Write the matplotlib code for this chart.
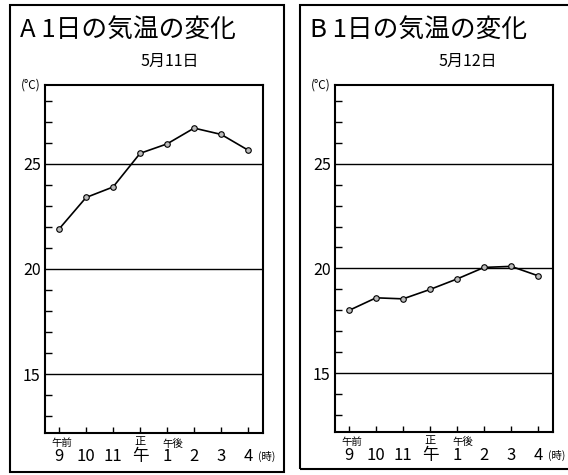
import numpy as np
import matplotlib.pyplot as plt
from matplotlib.patches import Rectangle
import matplotlib.transforms as mtransforms

plt.rcParams['font.family'] = ['Noto Sans CJK JP', 'DejaVu Sans']

# hours: 9..16 (12 = noon, 13 = 1 pm ...)
hours = [9, 10, 11, 12, 13, 14, 15, 16]
hour_labels = ["9", "10", "11", "午", "1", "2", "3", "4"]
temp_a = [21.9, 23.4, 23.9, 25.5, 25.95, 26.7, 26.4, 25.65]
temp_b = [18.0, 18.6, 18.55, 19.0, 19.5, 20.05, 20.1, 19.65]
titles = ["A 1日の気温の変化", "B 1日の気温の変化"]
dates = ["5月11日", "5月12日"]
major_y = [15, 20, 25]

W, H = 568, 475
fig = plt.figure(figsize=(W / 100, H / 100), dpi=100)


def px_box(x0, y0, x1, y1):
    # pixel box (top-left origin) -> figure fraction [left, bottom, width, height]
    return [x0 / W, 1 - y1 / H, (x1 - x0) / W, (y1 - y0) / H]


panels = [
    dict(frame=(10, 5, 284, 472), axes=(45, 85, 263, 433), temps=temp_a,
         title_x=20, date_x=170),
    dict(frame=(300, 5, 575, 469), axes=(335, 85, 553, 432), temps=temp_b,
         title_x=310, date_x=468),
]

for i, p in enumerate(panels):
    fx0, fy0, fx1, fy1 = p["frame"]
    fig.add_artist(Rectangle((fx0 / W, 1 - fy1 / H), (fx1 - fx0) / W, (fy1 - fy0) / H,
                             transform=fig.transFigure, fill=False, lw=1.5, ec="black"))
    fig.text(p["title_x"] / W, 1 - 30 / H, titles[i], fontsize=18.5, va="center", ha="left")
    fig.text(p["date_x"] / W, 1 - 61 / H, dates[i], fontsize=11.5, va="center", ha="center")

    ax = fig.add_axes(px_box(*p["axes"]))
    ax.plot(hours, p["temps"], color="black", lw=1.2, marker="o", ms=4,
            mfc="#bbbbbb", mec="black", mew=0.8, zorder=3)
    for v in major_y:
        ax.axhline(v, color="black", lw=1.0)
    ax.set_xlim(8.48, 16.55)
    ax.set_ylim(12.2, 28.75)
    for s in ax.spines.values():
        s.set_linewidth(1.5)

    ax.set_yticks(major_y)
    ax.set_yticklabels([str(v) for v in major_y], fontsize=11.5)
    ax.set_yticks(range(13, 29), minor=True)
    ax.tick_params(axis="y", which="major", length=0, pad=3)
    ax.tick_params(axis="y", which="minor", direction="in", length=5, width=1.0)
    ax.set_xticks(hours)
    ax.set_xticklabels([])
    ax.tick_params(axis="x", direction="in", length=4, width=1.0)

    tr = mtransforms.blended_transform_factory(ax.transData, ax.transAxes)
    for h, lab in zip(hours, hour_labels):
        ax.text(h, -0.068, lab, transform=tr, ha="center", va="center", fontsize=12)
    ax.text(16.35, -0.068, "(時)", transform=tr, ha="left", va="center", fontsize=7.5)
    ax.text(9.1, -0.03, "午前", transform=tr, ha="center", va="center", fontsize=7.5)
    ax.text(12.0, -0.027, "正", transform=tr, ha="center", va="center", fontsize=8)
    ax.text(13.2, -0.03, "午後", transform=tr, ha="center", va="center", fontsize=7.5)
    ax.text(-0.02, 1.0, "(°C)", transform=ax.transAxes, ha="right", va="center", fontsize=8.5)

fig.savefig("out.png", dpi=100)
